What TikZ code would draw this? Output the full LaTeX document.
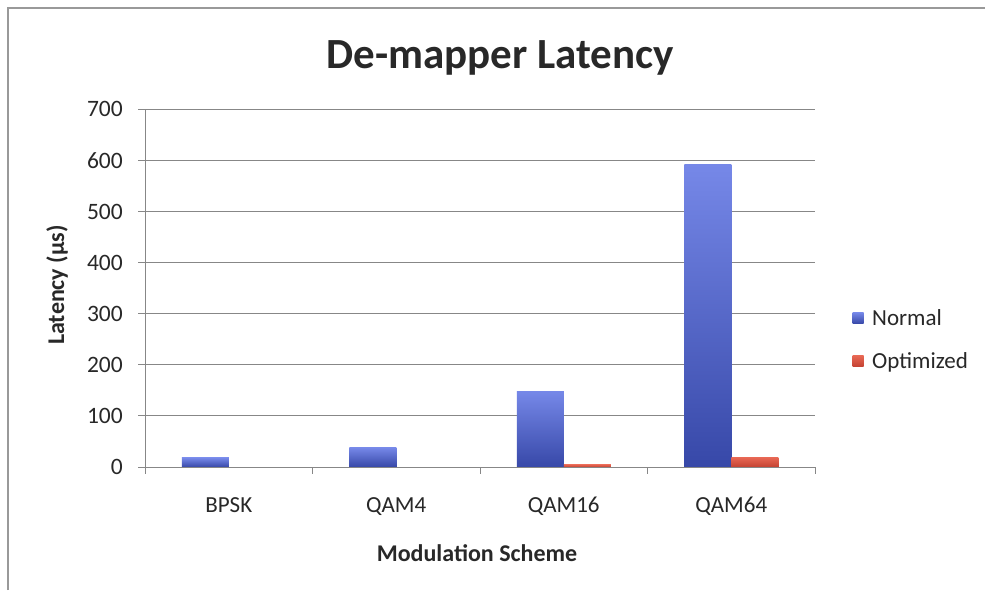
\documentclass[tikz,border=0pt]{standalone}
\usepackage{fontspec}
\setmainfont{Carlito}
\definecolor{txt}{RGB}{40,40,40}
\definecolor{gridc}{RGB}{135,135,135}
\definecolor{blueTop}{RGB}{118,136,232}
\definecolor{blueBot}{RGB}{55,72,168}
\definecolor{redTop}{RGB}{232,104,84}
\definecolor{redBot}{RGB}{196,66,50}
\begin{document}
\begin{tikzpicture}[x=1pt,y=1pt,
  gridline/.style={draw=gridc,line width=0.9pt},
  axisline/.style={draw=gridc,line width=1pt},
  ticklbl/.style={font=\fontsize{23.5}{23.5}\selectfont,text=txt,inner sep=0pt},
  catlbl/.style={font=\fontsize{23}{23}\selectfont,text=txt,inner sep=0pt,anchor=base},
  axtitle/.style={font=\bfseries\fontsize{24}{24}\selectfont,text=txt,inner sep=0pt},
  normalbar/.style={top color=blueTop,bottom color=blueBot,draw=none},
  optbar/.style={top color=redTop,bottom color=redBot,draw=none},
  legtext/.style={font=\fontsize{23}{23}\selectfont,text=txt,anchor=base west,inner sep=0pt}]
\useasboundingbox (0,0) rectangle (985,590);
\fill[white] (0,0) rectangle (985,590);
% chart frame (top and left edges)
\draw[draw=gray!80,line width=1.2pt] (8,0) -- (8,582) -- (985,582);
% title
\node[font=\bfseries\fontsize{43}{43}\selectfont,text=txt,anchor=base,inner sep=0pt] (title) at (500,521) {De-mapper Latency};
% plot area: origin at the foot of the value axis
\begin{scope}[shift={(145,123)},y=0.511pt]
  % horizontal grid
  \foreach \v in {100,200,...,700}{
    \draw[gridline] (0,\v) -- (670,\v);
    \draw[axisline] (0,\v) -- ++(-7pt,0);
  }
  \foreach \v in {0,100,...,700}{
    \node[ticklbl,anchor=east] (yl\v) at (-22pt,\v) {\v};
  }
  % bars: Normal, Optimized
  \foreach \i/\n/\o in {0/18/0.6,1/38/0.8,2/148/5,3/592/19}{
    \pgfmathsetmacro{\cx}{83.75+167.5*\i}
    \path[normalbar] (\cx-47,0) rectangle (\cx,\n);
    \path[optbar] (\cx,0) rectangle (\cx+47,\o);
  }
  % axes
  \draw[axisline] (0,0) -- (0,700);
  \draw[axisline] (-7pt,0) -- (670,0);
  \foreach \t in {0,167.5,335,502.5,670}{
    \draw[axisline] (\t,0) -- ++(0,-7pt);
  }
  % category labels
  \foreach \i/\c in {0/BPSK,1/QAM4,2/QAM16,3/QAM64}{
    \node[catlbl] (cat\i) at (83.75+167.5*\i,-90) {\c};
  }
\end{scope}
% axis titles
\node[axtitle,anchor=base] (xtitle) at (477,29) {Modulation Scheme};
\node[axtitle,rotate=90] (ytitle) at (57,305) {Latency (µs)};
% legend
\node[normalbar,minimum size=11pt,inner sep=0pt] (legN) at (858,272) {};
\node[legtext] (legNt) at (872,265) {Normal};
\node[optbar,minimum size=11pt,inner sep=0pt] (legO) at (858,229) {};
\node[legtext] (legOt) at (872,222) {Optimized};
\end{tikzpicture}
\end{document}
